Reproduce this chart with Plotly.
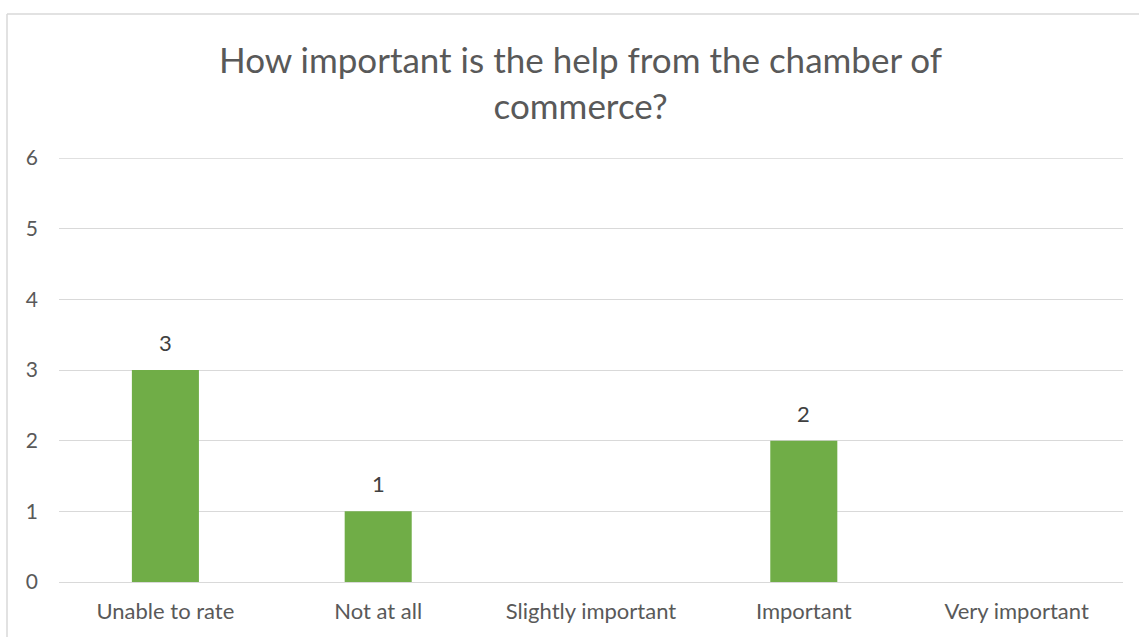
import plotly.graph_objects as go

# Survey responses: importance of help from the chamber of commerce
categories = ["Unable to rate", "Not at all", "Slightly important", "Important", "Very important"]
counts = [3, 1, 0, 2, 0]
y_ticks = [0, 1, 2, 3, 4, 5, 6]
title_lines = ["How important is the help from the chamber of", "commerce?"]

W, H = 1139, 637
L, R, T, B = 59, 16, 158, 55

fig = go.Figure(
    go.Bar(
        x=categories,
        y=counts,
        marker=dict(color="#70AD47", line=dict(width=0)),
        width=0.315,
        cliponaxis=False,
    )
)

pw, ph = W - L - R, H - T - B


def px_x(p):
    return (p - L) / pw


def px_y(p):
    return (H - B - p) / ph


# value labels above the non-empty bars
value_labels = [
    dict(
        x=c, y=v, xref="x", yref="y",
        text=str(v), showarrow=False,
        xanchor="center", yanchor="bottom", yshift=12,
        font=dict(family="Lato", size=22, color="#404040"),
    )
    for c, v in zip(categories, counts) if v
]

fig.update_layout(
    width=W,
    height=H,
    margin=dict(l=L, r=R, t=T, b=B),
    paper_bgcolor="white",
    plot_bgcolor="white",
    showlegend=False,
    font=dict(family="Lato", color="#595959"),
    xaxis=dict(
        showgrid=False,
        showline=False,
        ticks="",
        ticklabelstandoff=14,
        tickfont=dict(size=22, color="#595959"),
    ),
    yaxis=dict(
        range=[0, 6],
        tickvals=y_ticks,
        showgrid=True,
        gridcolor="#D9D9D9",
        gridwidth=1,
        zeroline=True,
        zerolinecolor="#D9D9D9",
        zerolinewidth=1,
        showline=False,
        ticks="",
        ticklabelstandoff=20,
        tickfont=dict(size=21, color="#595959"),
    ),
    annotations=[
        dict(
            text="<br>".join(title_lines),
            xref="paper",
            yref="paper",
            x=px_x(580),
            y=px_y(36),
            xanchor="center",
            yanchor="top",
            showarrow=False,
            align="center",
            font=dict(family="Lato", size=35, color="#595959"),
        )
    ] + value_labels,
    shapes=[
        # gridline at the top of the value range
        dict(type="line", xref="paper", yref="y", layer="below",
             x0=0, x1=1, y0=y_ticks[-1], y1=y_ticks[-1],
             line=dict(color="#D6D6D6", width=1.6)),
        # chart frame
        dict(type="line", xref="paper", yref="paper",
             x0=px_x(7), x1=px_x(W + 5), y0=px_y(14), y1=px_y(14),
             line=dict(color="#D9D9D9", width=1.5)),
        dict(type="line", xref="paper", yref="paper",
             x0=px_x(7), x1=px_x(7), y0=px_y(14), y1=px_y(H + 5),
             line=dict(color="#D9D9D9", width=1.5)),
    ],
)

fig.write_html("out.html")
